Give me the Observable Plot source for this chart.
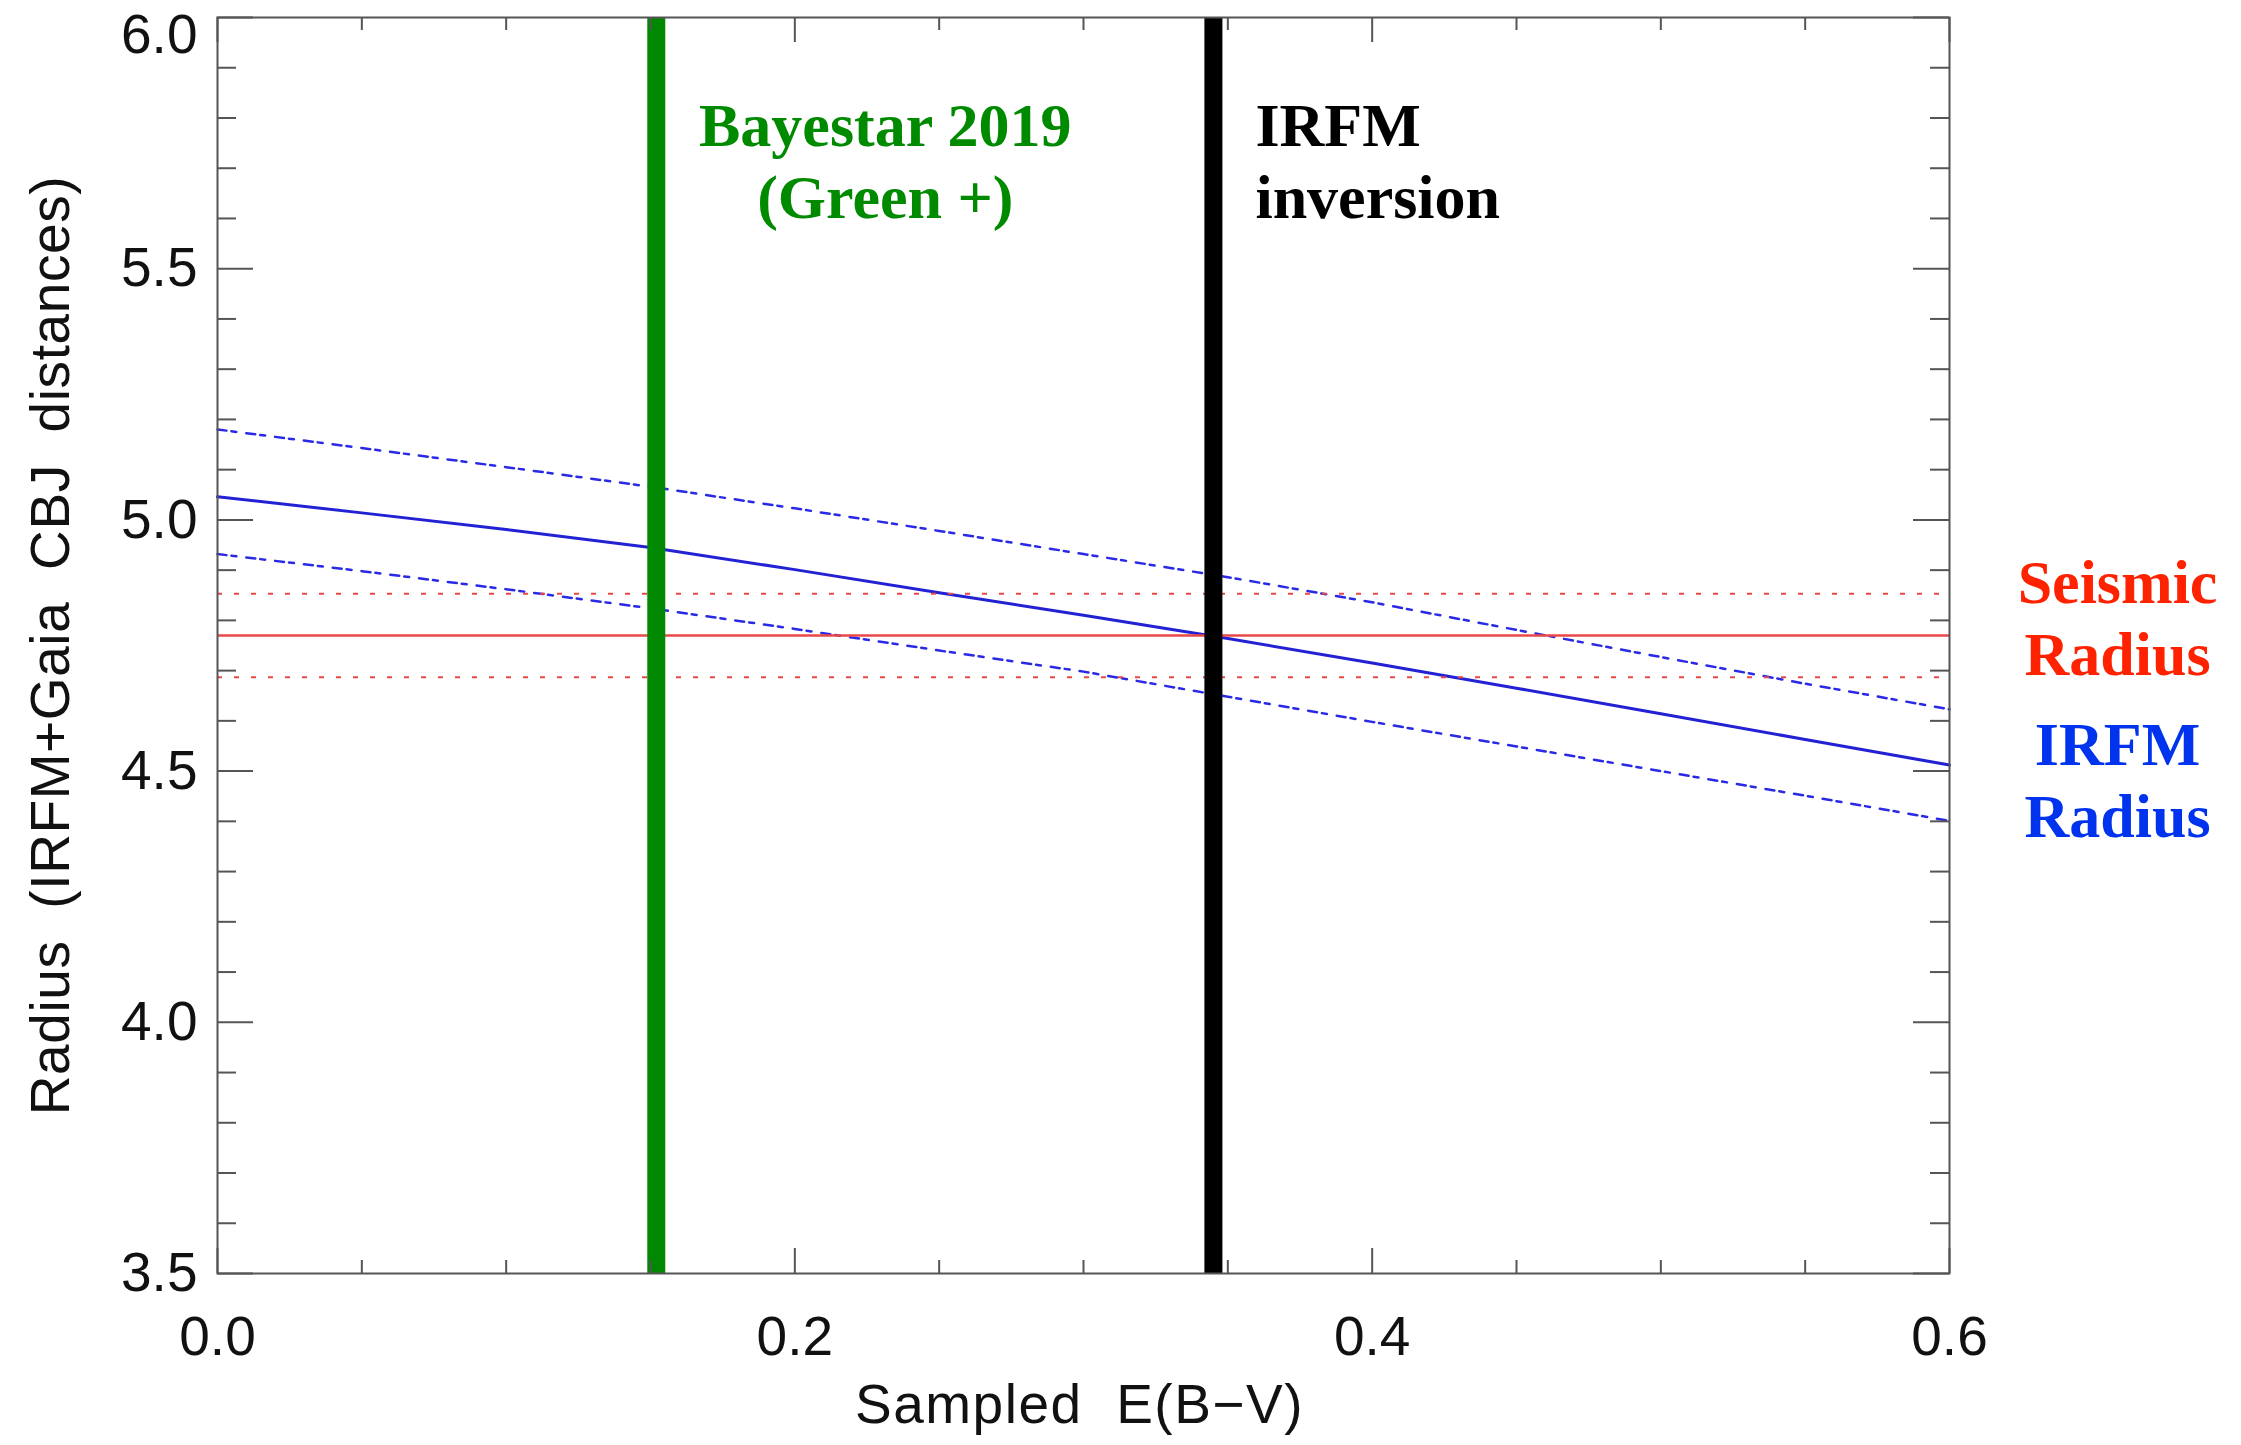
<!DOCTYPE html>
<html>
<head>
<meta charset="utf-8">
<script src="https://cdn.jsdelivr.net/npm/d3@7"></script>
<script src="https://cdn.jsdelivr.net/npm/@observablehq/plot@0.6"></script>
<style>
  html, body { margin: 0; padding: 0; background: #ffffff; }
</style>
</head>
<body>
<div id="chart"></div>
<script>
// ---- Data ----
const ebv = [0, 0.05, 0.1, 0.15, 0.2, 0.25, 0.3, 0.35, 0.4, 0.45, 0.5, 0.55, 0.6];
const radiusIRFM      = [5.046, 5.014, 4.981, 4.945, 4.901, 4.855, 4.810, 4.764, 4.715, 4.665, 4.614, 4.563, 4.512];
const radiusIRFMUpper = [5.180, 5.143, 5.105, 5.066, 5.023, 4.978, 4.932, 4.886, 4.836, 4.781, 4.727, 4.674, 4.623];
const radiusIRFMLower = [4.932, 4.898, 4.862, 4.824, 4.783, 4.740, 4.698, 4.648, 4.598, 4.549, 4.500, 4.451, 4.401];

const seismicRadius = [4.77];
const seismicBounds = [4.853, 4.687];

const bayestarEBV = [0.152];
const irfmInversionEBV = [0.345];

const xTicksMajor = [0, 0.2, 0.4, 0.6];
const xTicksMinor = [0.05, 0.1, 0.15, 0.25, 0.3, 0.35, 0.45, 0.5, 0.55];
const yTicksMajor = [3.5, 4.0, 4.5, 5.0, 5.5, 6.0];
const yTicksMinor = [3.6, 3.7, 3.8, 3.9, 4.1, 4.2, 4.3, 4.4, 4.6, 4.7, 4.8, 4.9, 5.1, 5.2, 5.3, 5.4, 5.6, 5.7, 5.8, 5.9];

const xTitle = "Sampled  E(B\u2212V)";
const yTitle = "Radius  (IRFM+Gaia  CBJ  distances)";
const bayestarText = "Bayestar 2019\n(Green +)";
const inversionText = "IRFM\ninversion";
const seismicText = "Seismic\nRadius";
const irfmText = "IRFM\nRadius";

// ---- Derived tables ----
const irfmTable = ebv.map((e, i) => ({e, r: radiusIRFM[i], hi: radiusIRFMUpper[i], lo: radiusIRFMLower[i]}));

const W = 2241, H = 1445;
const mL = 217, mR = 292, mT = 17, mB = 172;
const fw = W - mL - mR, fh = H - mT - mB;
const axisColor = "#555555";
const serif = "Liberation Serif, Times New Roman, serif";

const chart = Plot.plot({
  width: W,
  height: H,
  marginLeft: mL,
  marginRight: mR,
  marginTop: mT,
  marginBottom: mB,
  style: {fontFamily: "Liberation Sans, Arial, sans-serif", fontSize: "55px", background: "#ffffff", color: "#111"},
  x: {domain: [0, 0.6], axis: null},
  y: {domain: [3.5, 6.0], axis: null},
  marks: [
    // IRFM radius with uncertainty
    Plot.line(irfmTable, {x: "e", y: "hi", stroke: "#2a2ae6", strokeWidth: 2.5, strokeDasharray: "9,5,5,10"}),
    Plot.line(irfmTable, {x: "e", y: "lo", stroke: "#2a2ae6", strokeWidth: 2.5, strokeDasharray: "9,5,5,10"}),
    Plot.line(irfmTable, {x: "e", y: "r", stroke: "#2222d4", strokeWidth: 3}),
    // Seismic radius
    Plot.ruleY(seismicRadius, {y: d => d, stroke: "#e84848", strokeWidth: 2.5}),
    Plot.ruleY(seismicBounds, {y: d => d, stroke: "#e84848", strokeWidth: 2, strokeDasharray: "5,12"}),
    // Vertical markers
    Plot.ruleX(bayestarEBV, {x: d => d, stroke: "#008800", strokeWidth: 18}),
    Plot.ruleX(irfmInversionEBV, {x: d => d, stroke: "#000000", strokeWidth: 18}),
    // Frame
    Plot.frame({stroke: axisColor, strokeWidth: 2}),
    // Ticks (inward, on all four sides)
    Plot.tickX(xTicksMajor, {x: d => d, stroke: axisColor, strokeWidth: 2, insetTop: fh - 25}),
    Plot.tickX(xTicksMinor, {x: d => d, stroke: axisColor, strokeWidth: 2, insetTop: fh - 13}),
    Plot.tickX(xTicksMajor, {x: d => d, stroke: axisColor, strokeWidth: 2, insetBottom: fh - 25}),
    Plot.tickX(xTicksMinor, {x: d => d, stroke: axisColor, strokeWidth: 2, insetBottom: fh - 13}),
    Plot.tickY(yTicksMajor, {y: d => d, stroke: axisColor, strokeWidth: 2, insetRight: fw - 36}),
    Plot.tickY(yTicksMinor, {y: d => d, stroke: axisColor, strokeWidth: 2, insetRight: fw - 19}),
    Plot.tickY(yTicksMajor, {y: d => d, stroke: axisColor, strokeWidth: 2, insetLeft: fw - 36}),
    Plot.tickY(yTicksMinor, {y: d => d, stroke: axisColor, strokeWidth: 2, insetLeft: fw - 19}),
    // Tick labels
    Plot.text(xTicksMajor, {x: d => d, text: d => d.toFixed(1), frameAnchor: "bottom", textAnchor: "middle", lineAnchor: "top", dy: 42, fill: "#111"}),
    Plot.text(yTicksMajor.filter(d => d < 6), {y: d => d, text: d => d.toFixed(1), frameAnchor: "left", textAnchor: "end", lineAnchor: "middle", dx: -20, fill: "#111"}),
    Plot.text(yTicksMajor.filter(d => d >= 6), {y: d => d, text: d => d.toFixed(1), frameAnchor: "left", textAnchor: "end", lineAnchor: "middle", dx: -20, dy: 18, fill: "#111"}),
    // Axis titles
    Plot.text([xTitle], {text: d => d, frameAnchor: "bottom", textAnchor: "middle", lineAnchor: "bottom", dy: 149, dx: -4, fill: "#111"}),
    Plot.text([yTitle], {text: d => d, frameAnchor: "left", textAnchor: "middle", rotate: -90, lineAnchor: "bottom", dx: -149, fill: "#111"}),
    // Annotations
    Plot.text(bayestarEBV, {x: d => d, text: () => bayestarText, frameAnchor: "top", textAnchor: "middle", lineAnchor: "bottom", lineHeight: 1.161, dx: 229, dy: 200,
      fill: "#008a00", fontFamily: serif, fontWeight: "bold", fontSize: 62}),
    Plot.text(irfmInversionEBV, {x: d => d, text: () => inversionText, frameAnchor: "top", textAnchor: "start", lineAnchor: "bottom", lineHeight: 1.161, dx: 42, dy: 200,
      fill: "#000000", fontFamily: serif, fontWeight: "bold", fontSize: 62}),
    Plot.text(seismicRadius, {y: d => d, text: () => seismicText, frameAnchor: "right", textAnchor: "middle", lineAnchor: "bottom", lineHeight: 1.161, dx: 168, dy: 40,
      fill: "#ff2200", fontFamily: serif, fontWeight: "bold", fontSize: 62}),
    Plot.text([radiusIRFM[radiusIRFM.length - 1]], {y: d => d, text: () => irfmText, frameAnchor: "right", textAnchor: "middle", lineAnchor: "bottom", lineHeight: 1.161, dx: 168, dy: 72,
      fill: "#0033ee", fontFamily: serif, fontWeight: "bold", fontSize: 62})
  ]
});

// slightly wider letter spacing on the axis titles, as in the reference
d3.select(chart).selectAll("text")
  .filter(function() { return this.textContent === xTitle; })
  .style("letter-spacing", "1.5px")
  .style("white-space", "pre");
d3.select(chart).selectAll("text")
  .filter(function() { return this.textContent === yTitle; })
  .style("letter-spacing", "0.6px")
  .style("white-space", "pre");

document.getElementById("chart").appendChild(chart);
</script>
</body>
</html>
